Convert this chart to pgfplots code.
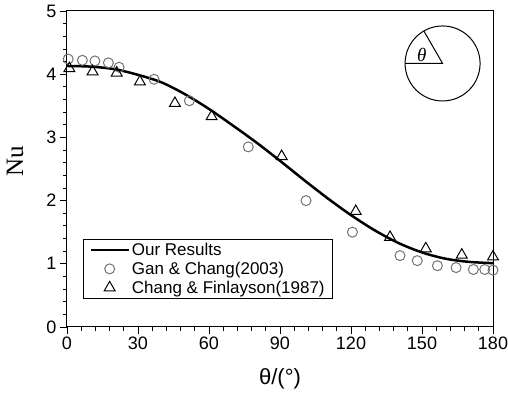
\documentclass[border=0pt]{standalone}
\usepackage{pgfplots}
\pgfplotsset{compat=1.18}
\usepackage{fontspec}
\setmainfont{Liberation Sans}
\newfontfamily\seriffont{Liberation Serif}
\definecolor{circgray}{RGB}{115,115,115}
\begin{document}
\begin{tikzpicture}
\begin{axis}[
 scale only axis, width=426pt, height=316pt,
 xmin=0, xmax=180, ymin=0, ymax=5,
 xtick={0,30,...,180}, ytick={0,1,...,5},
 minor x tick num=4, minor y tick num=4,
 tick align=outside, xtick pos=bottom, ytick pos=left,
 major tick length=7pt, minor tick length=4pt,
 axis line style={line width=1pt},
 every tick/.style={black, line width=0.8pt},
 /pgf/number format/assume math mode=true,
 ticklabel style={font=\fontsize{18}{20}\selectfont},
 xticklabel style={yshift=1pt},
 xlabel={θ/(°)}, ylabel={\seriffont Nu},
 every axis x label/.style={at={(axis description cs:0.5,0)}, yshift=-52pt, anchor=center, font=\fontsize{22}{24}\selectfont},
 every axis y label/.style={at={(axis description cs:0,0.5)}, xshift=-52pt, yshift=8pt, rotate=90, anchor=center, font=\fontsize{25}{28}\selectfont},
 legend cell align=left,
 legend style={at={(0.0376,0.0886)}, anchor=south west,
   font=\fontsize{17}{20}\selectfont, draw=black, line width=0.8pt,
   row sep=1pt, inner ysep=2pt, inner xsep=6pt},
 legend image code/.code={\draw[mark repeat=2,mark phase=2,#1] plot coordinates {(0pt,0pt) (19pt,0pt) (38pt,0pt)};},
]
\addplot[black, line width=2.5pt, smooth] coordinates {
 (0,4.13) (10,4.12) (20,4.08) (30,3.99) (40,3.87) (50,3.68) (60,3.45)
 (70,3.19) (80,2.92) (90,2.63) (100,2.33) (110,2.04) (120,1.77) (130,1.53)
 (140,1.33) (150,1.18) (160,1.08) (170,1.03) (180,1.01)};
\addlegendentry{Our Results}
\addplot[only marks, mark=o, mark size=5pt, circgray, mark options={line width=1pt}] coordinates {
 (0.5,4.24) (6.5,4.22) (11.8,4.21) (17.5,4.18) (22,4.11) (36.8,3.92)
 (51.7,3.58) (76.6,2.85) (101,2.0) (120.6,1.50) (140.7,1.13) (148,1.05)
 (156.5,0.97) (164.4,0.94) (171.7,0.91) (176.5,0.91) (180,0.90)};
\addlegendentry{Gan \& Chang(2003)}
\addplot[only marks, mark=triangle, mark size=6.3pt, black, mark options={line width=1pt}] coordinates {
 (1,4.09) (10.8,4.04) (21,4.02) (30.8,3.88) (45.6,3.54) (61.1,3.33)
 (90.7,2.70) (122,1.83) (136.5,1.42) (151.6,1.24) (166.8,1.14) (180,1.11)};
\addlegendentry{Chang \& Finlayson(1987)}
\coordinate (c) at (axis cs:158.7,4.17);
\draw[line width=1pt] (c) circle[radius=37.5pt];
\draw[line width=1pt] (c) ++(-37.5pt,0) -- (c) -- ++(120:37.5pt);
\node[font=\seriffont\itshape\fontsize{19}{22}\selectfont] at (axis cs:149.9,4.3) {θ};
\end{axis}
\pgfresetboundingbox
\path (current axis.south west) ++(-67pt,-71pt) rectangle ++(508pt,398pt);
\end{tikzpicture}
\end{document}
